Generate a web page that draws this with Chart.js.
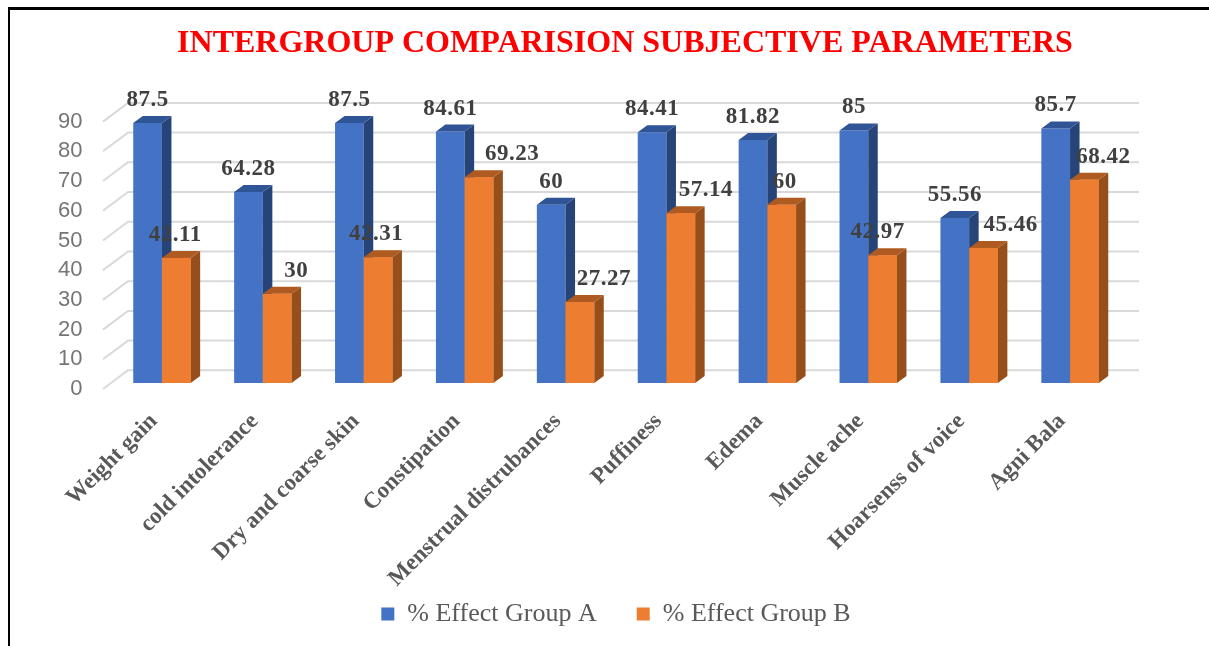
<!DOCTYPE html>
<html>
<head>
<meta charset="utf-8">
<script src="https://cdn.jsdelivr.net/npm/chart.js@4"></script>
<style>
html, body { margin: 0; padding: 0; background: #fff; overflow: hidden; }
#wrap { position: relative; width: 1209px; height: 646px; }
#frame { position: absolute; left: 8px; top: 7px; right: 0; bottom: 0; border-top: 3px solid #000; border-left: 2.5px solid #000; pointer-events: none; }
</style>
</head>
<body>
<div id="wrap">
<canvas id="effect-chart" width="1209" height="646"></canvas>
<div id="frame"></div>
</div>
<script>
const categories = ["Weight gain", "cold intolerance", "Dry and coarse skin", "Constipation", "Menstrual distrubances", "Puffiness", "Edema", "Muscle ache", "Hoarsenss of voice", "Agni Bala"];
const groupA = [87.5, 64.28, 87.5, 84.61, 60, 84.41, 81.82, 85, 55.56, 85.7];
const groupB = [42.11, 30, 42.31, 69.23, 27.27, 57.14, 60, 42.97, 45.46, 68.42];
const seriesNames = ["% Effect Group A", "% Effect Group B"];
const yTicks = [0, 10, 20, 30, 40, 50, 60, 70, 80, 90];

const chartTitle = "INTERGROUP COMPARISION SUBJECTIVE PARAMETERS";

// fake 3d look, the depth of the bars and the back wall
const barDepth = { x: 9.5, y: 7 };
const wall = { x: 25, y: 12.7, frontDrop: 6 };
const sideColors = ["#264478", "#964f1b"];
const topColors = ["#2f5597", "#ae5a21"];

// the orange labels were dragged sideways by hand in the original
const labelNudge = [
    [0, 0, 0, 0, 0, 0, 0, 0, 0, 0],
    [-1, 19, -2, 33, 24, 25, 3, -5, 27, 19]
];

const depthPlugin = {
    id: "depth",
    beforeDatasetsDraw(chart) {
        const { ctx, scales, chartArea } = chart;
        const yScale = scales.y;
        const left = chartArea.left - 8.5;
        ctx.save();
        ctx.strokeStyle = "#d9d9d9";
        ctx.lineWidth = 2;
        yTicks.forEach(tick => {
            const y = yScale.getPixelForValue(tick);
            ctx.beginPath();
            ctx.moveTo(left, y + wall.frontDrop);
            ctx.lineTo(left + wall.x, y - wall.y);
            ctx.lineTo(chartArea.right + 18.5, y - wall.y);
            ctx.stroke();
        });
        ctx.restore();
    },
    afterDatasetsDraw(chart) {
        const { ctx } = chart;
        ctx.save();
        chart.data.datasets.forEach((ds, i) => {
            chart.getDatasetMeta(i).data.forEach(bar => {
                const p = bar.getProps(["x", "y", "base", "width"], true);
                const l = p.x - p.width / 2;
                const r = p.x + p.width / 2;
                ctx.fillStyle = sideColors[i];
                ctx.beginPath();
                ctx.moveTo(r, p.y);
                ctx.lineTo(r + barDepth.x, p.y - barDepth.y);
                ctx.lineTo(r + barDepth.x, p.base - barDepth.y);
                ctx.lineTo(r, p.base);
                ctx.closePath();
                ctx.fill();
                ctx.fillStyle = topColors[i];
                ctx.beginPath();
                ctx.moveTo(l, p.y);
                ctx.lineTo(l + barDepth.x, p.y - barDepth.y);
                ctx.lineTo(r + barDepth.x, p.y - barDepth.y);
                ctx.lineTo(r, p.y);
                ctx.closePath();
                ctx.fill();
            });
        });
        // orange front faces go back over the blue side faces
        chart.getDatasetMeta(1).data.forEach(bar => {
            const p = bar.getProps(["x", "y", "base", "width"], true);
            ctx.fillStyle = chart.data.datasets[1].backgroundColor;
            ctx.fillRect(p.x - p.width / 2, p.y, p.width, p.base - p.y);
        });
        // value labels
        ctx.fillStyle = "#404040";
        ctx.font = "bold 23px 'Liberation Serif'";
        ctx.letterSpacing = "0.5px";
        ctx.textAlign = "center";
        ctx.textBaseline = "middle";
        chart.data.datasets.forEach((ds, i) => {
            chart.getDatasetMeta(i).data.forEach((bar, j) => {
                ctx.fillText(String(ds.data[j]), bar.x + labelNudge[i][j], bar.y - 23);
            });
        });
        ctx.restore();
    },
    afterLayout(chart) {
        // title sits a bit right of the plot centre
        chart.titleBlock.left += 9;
        chart.titleBlock.right += 9;
        // long x labels run into the legend box, don't let the scale clip them
        chart.scales.x.bottom = chart.height;
    }
};

new Chart(document.getElementById("effect-chart"), {
    type: "bar",
    data: {
        labels: categories,
        datasets: [
            { label: seriesNames[0], data: groupA, backgroundColor: "#4472c4" },
            { label: seriesNames[1], data: groupB, backgroundColor: "#ed7d31" }
        ]
    },
    options: {
        responsive: false,
        animation: false,
        layout: { padding: { left: 51.5, right: 88.5, top: 25, bottom: 9 } },
        datasets: { bar: { categoryPercentage: 0.569, barPercentage: 1 } },
        scales: {
            x: {
                grid: { display: false, drawTicks: false },
                border: { display: false },
                ticks: {
                    autoSkip: false,
                    minRotation: 45,
                    maxRotation: 45,
                    padding: 25,
                    labelOffset: -8,
                    color: "#595959",
                    font: { family: "'Liberation Serif'", size: 23, weight: "bold" }
                },
                afterFit(scale) { scale.height = 178; }
            },
            y: {
                min: 0,
                max: 90,
                afterBuildTicks(scale) { scale.ticks = yTicks.map(value => ({ value })); },
                grid: { display: false, drawTicks: false },
                border: { display: false },
                ticks: {
                    autoSkip: false,
                    padding: 29,
                    labelOffset: 6,
                    color: "#757575",
                    font: { family: "'Liberation Sans'", size: 22 }
                },
                afterFit(scale) { scale.width = 60; }
            }
        },
        plugins: {
            title: {
                display: true,
                text: chartTitle,
                fullSize: false,
                color: "#ff0000",
                font: { family: "'Liberation Serif'", size: 32, weight: "bold" },
                padding: { top: 0, bottom: 52.2 }
            },
            legend: {
                position: "bottom",
                fullSize: false,
                labels: {
                    boxWidth: 13,
                    boxHeight: 13,
                    padding: 40,
                    color: "#595959",
                    font: { family: "'Liberation Serif'", size: 26 }
                }
            },
            tooltip: { enabled: false }
        }
    },
    plugins: [depthPlugin]
});
</script>
</body>
</html>
